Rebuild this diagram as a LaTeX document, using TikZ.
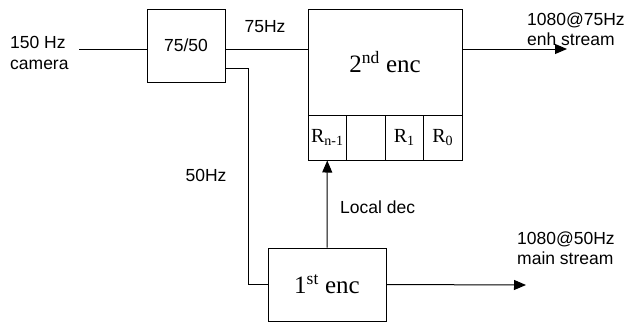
\documentclass[tikz,border=0pt]{standalone}
\usepackage{fontspec}
\setmainfont{Liberation Serif}
\newfontfamily\arialf{Liberation Sans}
\usetikzlibrary{arrows.meta}
\tikzset{
  lbl/.style={font=\arialf\fontsize{17.5}{20.5}\selectfont, inner sep=0pt, align=left},
  blk/.style={draw, line width=1pt, inner sep=0pt},
  enctext/.style={font=\fontsize{25}{28}\selectfont},
  cell/.style={draw, line width=1pt, inner sep=0pt, minimum width=38.5pt, minimum height=45pt, font=\fontsize{20}{22}\selectfont},
  wire/.style={line width=1pt},
  arr/.style={line width=1pt, -{Triangle[length=12pt,width=10pt]}}
}
\begin{document}
\begin{tikzpicture}[x=1pt,y=-1pt]
\useasboundingbox (0,0) rectangle (626,322);
% blocks
\node[blk, minimum width=78pt, minimum height=73pt, font=\arialf\fontsize{17.5}{20}\selectfont] (split) at (186,45.5) {75/50};
\node[blk, enctext, minimum width=154pt, minimum height=106pt] (enc2) at (385,62) {2\textsuperscript{nd} enc};
\node[cell] (r1) at (327.25,137.5) {R\textsubscript{n-1}};
\node[cell] (r2) at (365.75,137.5) {};
\node[cell] (r3) at (404.25,137.5) {R\textsubscript{1}};
\node[cell] (r4) at (442.75,137.5) {R\textsubscript{0}};
\node[blk, enctext, minimum width=118pt, minimum height=73pt] (enc1) at (327,284.5) {1\textsuperscript{st} enc};
% labels
\node[lbl, anchor=west] (cam) at (10,53) {150 Hz\\camera};
\node[lbl] (l75) at (265,27) {75Hz};
\node[lbl] (l50) at (206,175) {50Hz};
\node[lbl, anchor=west] (ldec) at (340,207) {Local dec};
\node[lbl, anchor=west] (o2l) at (527,29) {1080@75Hz\\enh stream};
\node[lbl, anchor=west] (o1l) at (517,248) {1080@50Hz\\main stream};
% coordinates
\coordinate (camend) at (79,49);
\coordinate (s50) at (225,68);
\coordinate (o2) at (567,49);
\coordinate (o1) at (526,285);
% connectors
\draw[wire] (camend) -- (camend -| split.west);
\draw[wire] (camend -| split.east) -- (camend -| enc2.west);
\draw[wire] (s50) -- ++(23,0) |- (enc1.west);
\draw[arr] (o2 -| enc2.east) -- (o2);
\draw[arr] (enc1.east) -- (o1);
\draw[arr] (enc1.north) -- (r1.south);
\end{tikzpicture}
\end{document}
